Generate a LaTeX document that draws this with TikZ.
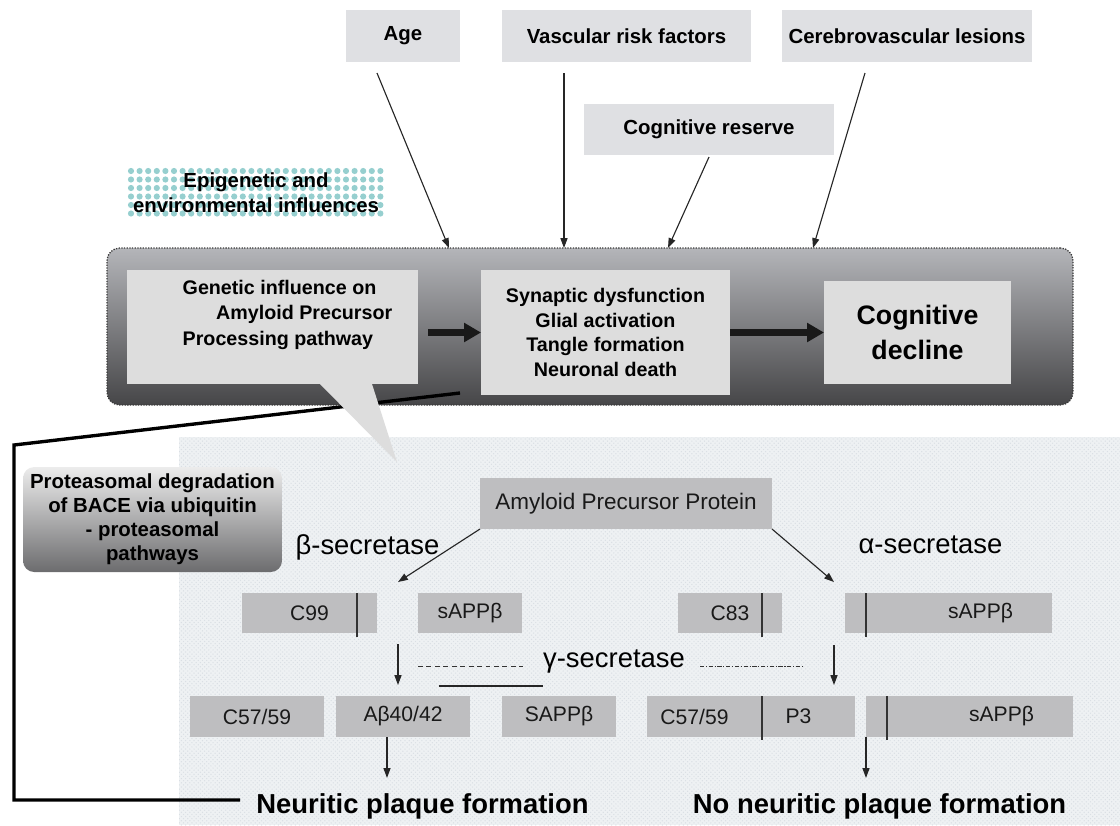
\documentclass[tikz,border=0pt]{standalone}
\usepackage{fontspec}
\setmainfont{Liberation Sans}
\usetikzlibrary{arrows.meta,patterns}

\definecolor{marble}{RGB}{223,224,227}
\definecolor{granite}{RGB}{221,221,221}
\definecolor{fragfill}{RGB}{190,190,192}
\definecolor{panelbg}{RGB}{238,241,243}
\definecolor{paneldot}{RGB}{218,223,228}
\definecolor{epidot}{RGB}{150,207,207}
\definecolor{boxtop}{RGB}{180,181,185}
\definecolor{boxbot}{RGB}{70,70,72}
\definecolor{protop}{RGB}{236,236,236}
\definecolor{probot}{RGB}{108,108,110}

\begin{document}
\begin{tikzpicture}[x=0.025cm, y=-0.025cm,
    wh/.style 2 args={minimum width=#1*0.025cm, minimum height=#2*0.025cm},
    flat/.style={inner sep=0pt, outer sep=0pt},
    riskbox/.style={flat, fill=marble, font=\fontsize{14.5}{17}\selectfont\bfseries},
    stagebox/.style={flat, fill=granite, align=center, font=\fontsize{14}{17.4}\selectfont\bfseries},
    fragbox/.style={flat, fill=fragfill, text=black!90, font=\fontsize{15}{18}\selectfont},
    enzymelabel/.style={inner sep=0pt, font=\fontsize{19.5}{22}\selectfont},
    outcomelabel/.style={inner sep=0pt, font=\fontsize{19.5}{22}\selectfont\bfseries},
    thinarrow/.style={-{Triangle[length=7pt,width=5pt]}, line width=0.8pt, black!85},
    fatarrow/.style={-{Triangle[length=12pt,width=13pt]}, line width=4.3pt, black!90},
    cutline/.style={line width=0.9pt, black!80},
  ]
  \useasboundingbox (0,0) rectangle (1120,825);

  % Lower panel background
  \fill[panelbg] (179,437) rectangle (1120,825);
  \fill[pattern=crosshatch dots, pattern color=paneldot] (179,437) rectangle (1120,825);

  % Risk factors
  \node[riskbox, wh={114}{52}] (age) at (403,36) {Age};
  \node[riskbox, wh={249}{52}] (vasc) at (626.5,36) {Vascular risk factors};
  \node[riskbox, wh={250}{52}] (cvl) at (907,36) {Cerebrovascular lesions};
  \node[riskbox, wh={250}{51}] (reserve) at (709,129.5) {Cognitive reserve};

  % Epigenetic label on dots
  \foreach \i in {0,...,29}
    \foreach \j in {0,...,5}
      \fill[epidot] (131+\i*8.6, 171+\j*8.5) circle[radius=2.2pt];
  \node[inner sep=0pt, align=center, font=\fontsize{14.5}{17.8}\selectfont\bfseries] (epi) at (256,192.5) {Epigenetic and\\environmental influences};

  % Main chain
  \node[flat, wh={966}{157}, rounded corners=9pt, top color=boxtop, bottom color=boxbot,
        draw=gray!45!black, densely dotted, line width=0.9pt] (chain) at (590,326.5) {};
  \node[stagebox, wh={291}{114}] (genetic) at (272.5,327) {};
  \node[stagebox, align=left, fill=none, font=\fontsize{14}{18.1}\selectfont\bfseries] (genetictext) at (287.5,314.5)
       {Genetic influence on\\\hspace*{1.7em}Amyloid Precursor\\Processing pathway};
  \node[stagebox, wh={249}{125}] (synaptic) at (605.5,332.5) {Synaptic dysfunction\\Glial activation\\Tangle formation\\Neuronal death};
  \node[stagebox, wh={187}{103}, font=\fontsize{19}{25}\selectfont\bfseries] (decline) at (917.5,332.5) {Cognitive\\decline};

  \draw[fatarrow, shorten <=0.25cm] (genetic.east |- synaptic.west) -- (synaptic.west);
  \draw[fatarrow] (synaptic.east) -- (decline.west);

  % Factor arrows
  \draw[thinarrow] ([shift={(-26,11)}]age.south) -- (chain.north -| 449,0);
  \draw[thinarrow] ([shift={(-62.5,11)}]vasc.south) -- (chain.north -| 564,0);
  \draw[thinarrow] ([shift={(0,2)}]reserve.south) -- (chain.north -| 668,0);
  \draw[thinarrow] ([shift={(-42,11)}]cvl.south) -- (chain.north -| 813,0);

  % Link to the pathway and callout
  \coordinate (linkstart) at (460,393);
  \coordinate (linkend) at (240,800);
  \draw[line width=2.4pt, black] (linkstart) -- (14,445) -- (14,800) -- (linkend);
  \fill[granite] (genetic.south -| 320,0) -- (genetic.south -| 372,0) -- (397,462) -- cycle;

  % Proteasomal box
  \node[flat, wh={259}{105}, rounded corners=8pt, top color=protop, bottom color=probot, align=center,
        font=\fontsize{14.5}{17}\selectfont\bfseries] (proteasome) at (152.5,519.5)
       {Proteasomal degradation\\of BACE via ubiquitin\\- proteasomal\\pathways};

  % APP processing
  \node[fragbox, wh={292}{51}, font=\fontsize{16}{18}\selectfont] (app) at (626,503.5) {Amyloid Precursor Protein};
  \node[enzymelabel] (beta) at (367.5,547) {β-secretase};
  \node[enzymelabel] (alpha) at (930.5,545) {α-secretase};
  \node[enzymelabel] (gamma) at (614,661) {γ-secretase};

  \coordinate (betacut) at (398,582);
  \coordinate (alphacut) at (834,582);
  \draw[thinarrow] (app.south west) -- (betacut);
  \draw[thinarrow] (app.south east) -- (alphacut);

  % First cleavage
  \node[fragbox, wh={135}{40}] (c99) at (309.5,613) {C99};
  \node[fragbox, wh={104}{40}] (sappA) at (470,613) {sAPPβ};
  \node[fragbox, wh={104}{40}] (c83) at (730,613) {C83};
  \node[fragbox, wh={207}{40}] (sappB) at (948.5,613) {\hspace*{1.6cm}sAPPβ};
  \draw[cutline] (c99.north -| 357,0) -- ++(0,44);
  \draw[cutline] (c83.north -| 762,0) -- ++(0,44);
  \draw[cutline] (sappB.north -| 866,0) -- ++(0,44);

  % Second cleavage
  \node[fragbox, wh={134}{41}] (c57a) at (257,716.5) {C57/59};
  \node[fragbox, wh={134}{41}] (abeta) at (403,716.5) {Aβ40/42};
  \node[fragbox, wh={114}{41}] (sappC) at (559,716.5) {SAPPβ};
  \node[fragbox, wh={115}{41}] (c57b) at (704.5,716.5) {C57/59\hspace*{0.5cm}};
  \node[fragbox, wh={93}{41}] (p3) at (808.5,716.5) {P3\hspace*{0.5cm}};
  \node[fragbox, wh={207}{41}] (sappD) at (969.5,716.5) {\hspace*{1.6cm}sAPPβ};
  \draw[cutline] (c57b.north east) -- ++(0,44);
  \draw[cutline] (sappD.north -| 887,0) -- ++(0,44);

  % Gamma cleavage
  \draw[thinarrow, shorten <=0.275cm, shorten >=0.275cm] (c99.south -| betacut) -- (betacut |- abeta.north);
  \draw[thinarrow, shorten <=0.3cm, shorten >=0.275cm] (c83.south -| alphacut) -- (alphacut |- p3.north);
  \draw[line width=0.6pt, black!80, dash pattern=on 3.5pt off 2.5pt] (418,666) -- (523,666);
  \draw[line width=0.9pt, black!85] (439,686) -- (543,686);
  \draw[line width=0.6pt, black!80, dash pattern=on 3pt off 1.2pt on 0.8pt off 1.2pt] (700,666) -- (804,666);

  % Outcomes
  \node[outcomelabel] (plaque) at (422.5,806) {Neuritic plaque formation};
  \node[outcomelabel] (noplaque) at (879.5,806) {No neuritic plaque formation};
  \draw[thinarrow, shorten >=0.375cm] (abeta.south -| 387,0) -- (plaque.north -| 387,0);
  \draw[thinarrow, shorten >=0.375cm] (sappD.south west) -- (noplaque.north -| sappD.south west);
\end{tikzpicture}
\end{document}
